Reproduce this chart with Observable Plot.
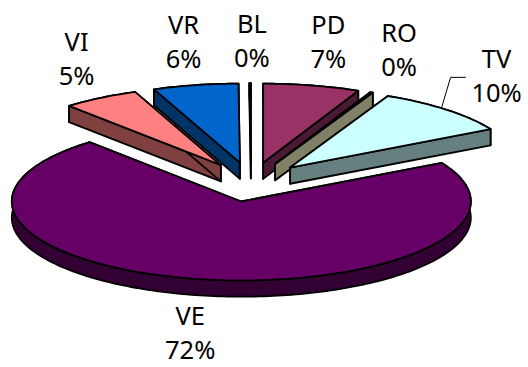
<!DOCTYPE html>
<html>
<head>
<meta charset="utf-8">
<script src="https://cdn.jsdelivr.net/npm/d3@7"></script>
<script src="https://cdn.jsdelivr.net/npm/@observablehq/plot@0.6"></script>
<style>
  html, body { margin: 0; padding: 0; background: #fff; }
  svg { display: block; }
</style>
</head>
<body>
<div id="chart"></div>
<script>
// Shares in percent, clockwise from twelve o'clock
const names = ["PD", "RO", "TV", "VE", "VI", "VR", "BL"];
const shares = [6.8, 0.2, 9.9, 71.6, 5.4, 6.0, 0.1];
const topColors = ["#993366", "#FFFFCC", "#CCFFFF", "#660066", "#FF8080", "#0066CC", "#9999FF"];
const sideColors = ["#4C1933", "#808066", "#668080", "#330033", "#804040", "#003366", "#4C4C80"];
// Painter's order: back slices first, the large front slice in between
const drawOrder = ["VE", "PD", "RO", "TV", "VR", "VI", "BL"];
// Where each two-line label is centred, in disc units (horizontal, vertical)
const labelSpots = {
  PD: [0.337, 1.76], RO: [0.645, 1.665], TV: [1.07, 1.335], VE: [-0.265, -1.92],
  VI: [-0.76, 1.55], VR: [-0.294, 1.76], BL: [0.004, 1.78]
};

const explode = 0.25;   // radial pull of each slice, in disc radii
const depth = 0.205;    // height of the extrusion, in disc radii
const total = d3.sum(shares);
const tau = 2 * Math.PI;

let running = 0;
const slices = names.map((name, i) => {
  const a0 = running / total * tau;
  running += shares[i];
  const a1 = running / total * tau;
  const mid = (a0 + a1) / 2;
  return {name, share: shares[i], a0, a1, mid, top: topColors[i], side: sideColors[i],
    ox: explode * Math.sin(mid), oy: explode * Math.cos(mid)};
});

const rimPoint = (s, a, drop = 0) => [s.ox + Math.sin(a), s.oy + Math.cos(a) - drop];
const apexPoint = (s, drop = 0) => [s.ox, s.oy - drop];
const rimArc = (s, drop = 0) => {
  const n = Math.max(2, Math.ceil((s.a1 - s.a0) / 0.02));
  return d3.range(n + 1).map(k => rimPoint(s, s.a0 + (s.a1 - s.a0) * k / n, drop));
};

// Each face is one closed outline; faces are listed in the order they paint
const faces = [];
const addFace = (id, fill, points) =>
  [...points, points[0]].forEach(([x, y]) => faces.push({id, fill, x, y}));

for (const name of drawOrder) {
  const s = slices.find(d => d.name === name);
  const arcTop = rimArc(s);
  const arcLow = rimArc(s, depth);
  addFace(`${name}-rim`, s.side, [...arcLow, ...arcTop.slice().reverse()]);
  addFace(`${name}-start`, s.side, [apexPoint(s), rimPoint(s, s.a0), rimPoint(s, s.a0, depth), apexPoint(s, depth)]);
  addFace(`${name}-end`, s.side, [apexPoint(s), rimPoint(s, s.a1), rimPoint(s, s.a1, depth), apexPoint(s, depth)]);
  addFace(`${name}-top`, s.top, [apexPoint(s), ...arcTop]);
}

const labels = slices.flatMap(s => {
  const [x, y] = labelSpots[s.name];
  return [
    {x, y, line: 0, text: s.name},
    {x, y, line: 1, text: `${Math.round(s.share / total * 100)}%`}
  ];
});

// Leader from the TV rim up to its label
const tv = slices.find(d => d.name === "TV");
const tvRim = rimPoint(tv, tv.a0 + (tv.a1 - tv.a0) * 0.45);
const leader = [
  {x: tvRim[0], y: tvRim[1]},
  {x: tvRim[0] + 0.04, y: tvRim[1] + 0.39},
  {x: tvRim[0] + 0.104, y: tvRim[1] + 0.39}
];

const labelFont = "'Noto Sans', sans-serif";

const chart = Plot.plot({
  width: 528,
  height: 367,
  margin: 0,
  x: {domain: [-1, 1], range: [21, 480], axis: null},
  y: {domain: [-1, 1], range: [260.5, 102.5], axis: null},
  marks: [
    Plot.line(faces, {
      x: "x", y: "y", z: "id", fill: "fill", stroke: "#000",
      strokeWidth: 1.8, curve: "linear", strokeLinejoin: "round"
    }),
    Plot.line(leader, {x: "x", y: "y", stroke: "#000", strokeWidth: 1, curve: "linear"}),
    Plot.text(labels.filter(d => d.line === 0), {
      x: "x", y: "y", text: "text", dy: -17, fontSize: 25.5, fill: "#000", fontFamily: labelFont
    }),
    Plot.text(labels.filter(d => d.line === 1), {
      x: "x", y: "y", text: "text", dy: 17, fontSize: 25.5, fill: "#000", fontFamily: labelFont
    })
  ]
});
document.getElementById("chart").append(chart);
</script>
</body>
</html>
